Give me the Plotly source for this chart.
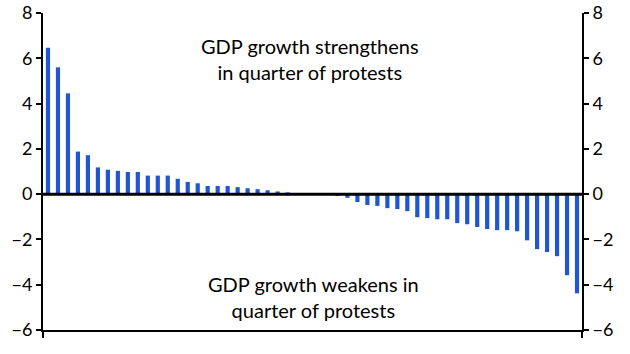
import plotly.graph_objects as go

# Change in GDP growth in quarter of protests (sorted), % pts
values = [6.47, 5.6, 4.45, 1.88, 1.72, 1.18, 1.08, 1.03, 0.98, 0.98,
          0.82, 0.82, 0.82, 0.68, 0.54, 0.48, 0.36, 0.36, 0.36, 0.31,
          0.26, 0.22, 0.17, 0.12, 0.08, 0.04, 0.0, 0.0, 0.0,
          -0.08, -0.16, -0.35, -0.48, -0.52, -0.62, -0.66, -0.75, -1.02, -1.06,
          -1.11, -1.11, -1.28, -1.33, -1.45, -1.54, -1.59, -1.59, -1.64, -2.04,
          -2.43, -2.56, -2.74, -3.58, -4.38]
positions = list(range(len(values)))
y_ticks = [8, 6, 4, 2, 0, -2, -4, -6]

FONT = "Lato"
BLUE = "#2156D2"

fig = go.Figure()
fig.add_trace(go.Bar(x=positions, y=values, marker=dict(color=BLUE, line=dict(width=0)),
                     width=0.42, showlegend=False))
fig.add_trace(go.Scatter(x=[positions[0]], y=[None], yaxis="y2", showlegend=False,
                         hoverinfo="skip"))

axis_common = dict(range=[-6, 8], tickvals=y_ticks, ticks="outside", ticklen=5,
                   tickwidth=2, tickcolor="black", showline=True, linecolor="black",
                   linewidth=2, showgrid=False, zeroline=False, automargin=False,
                   tickfont=dict(family=FONT, size=18, color="black"))

fig.update_layout(
    width=630, height=354,
    margin=dict(l=43, r=48, t=13, b=24, autoexpand=False),
    plot_bgcolor="white", paper_bgcolor="white",
    bargap=0.6,
    xaxis=dict(range=[-0.5, len(values) - 0.5], showgrid=False, zeroline=False,
               showline=True, linecolor="black", linewidth=2, mirror=False,
               automargin=False,
               tickvals=[-0.5, len(values) - 0.5], ticktext=["", ""], ticks="outside",
               ticklen=6, tickwidth=2, tickcolor="black", showticklabels=False),
    yaxis=dict(**axis_common, side="left"),
    yaxis2=dict(**axis_common, side="right", overlaying="y"),
    shapes=[dict(type="line", xref="paper", yref="y", x0=0, x1=1, y0=0, y1=0,
                 line=dict(color="black", width=3), layer="above")],
    annotations=[
        dict(x=26.2, y=5.95, xref="x", yref="y", showarrow=False,
             text="GDP growth strengthens<br>in quarter of protests",
             font=dict(family=FONT, size=20, color="black"), align="center"),
        dict(x=26.6, y=-4.53, xref="x", yref="y", showarrow=False,
             text="GDP growth weakens in<br>quarter of protests",
             font=dict(family=FONT, size=20, color="black"), align="center"),
    ],
)

fig.write_html("out.html")
